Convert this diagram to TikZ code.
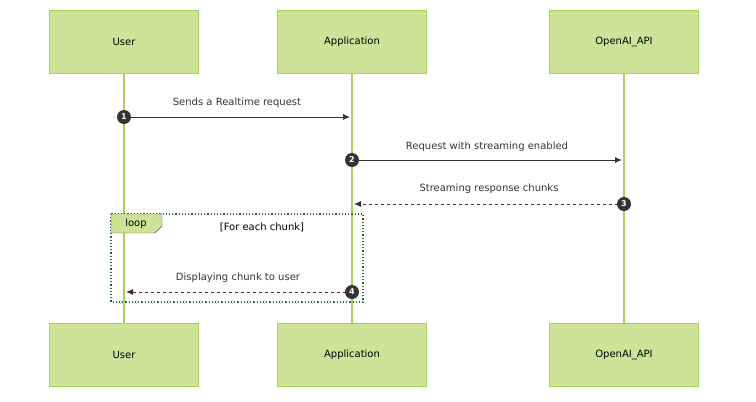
\documentclass[tikz,border=0pt]{standalone}
\usepackage{fontspec}
\setmainfont{DejaVu Sans}
\usetikzlibrary{positioning, arrows.meta}
\definecolor{actorfill}{HTML}{CDE498}
\definecolor{actorline}{HTML}{A8D05A}
\definecolor{loopline}{HTML}{326932}
\definecolor{msg}{HTML}{333333}
\tikzset{
	actor/.style={fill=actorfill,draw=actorline,minimum width=149pt,minimum height=63pt,font=\fontsize{10}{12}\selectfont},
	life/.style={draw=actorline,line width=1.2pt},
	msgline/.style={draw=msg,line width=0.9pt,-{Latex[length=7pt,width=6pt]}},
	msglabel/.style={font=\fontsize{10}{12}\selectfont,text=msg},
	seq/.style={circle,fill=msg,text=white,inner sep=0pt,minimum size=14pt,font=\bfseries\fontsize{8}{9}\selectfont}
}
\begin{document}
\begin{tikzpicture}[x=1pt,y=-1pt]
	\useasboundingbox (0,0) rectangle (756,402);
	% actors
	\node (usertop) at (124,42) [actor] {User};
	\node (apptop) at (352,42) [actor] {Application};
	\node (apitop) at (624,42) [actor] {OpenAI\_API};
	\node (userbot) at (124,355) [actor] {User};
	\node (appbot) at (352,355) [actor] {Application};
	\node (apibot) at (624,355) [actor] {OpenAI\_API};
	\begin{scope}[on background layer/.style={}]
	\end{scope}
	% lifelines
	\path[life] (usertop) -- (userbot);
	\path[life] (apptop) -- (appbot);
	\path[life] (apitop) -- (apibot);
	% loop frame
	\draw[loopline,dotted,line width=1.2pt] (111,214) rectangle (363,302);
	\draw[loopline,fill=actorfill] (111,214) -- (162,214) -- (162,226) -- (155,233) -- (111,233) -- cycle;
	\node (looplabel) at (136,224) [msglabel,text=black] {loop};
	\node (loopcond) at (262,227) [msglabel,text=black] {[For each chunk]};
	% messages
	\coordinate (m1a) at (124,117); \coordinate (m1b) at (350,117);
	\coordinate (m2a) at (352,160); \coordinate (m2b) at (622,160);
	\coordinate (m3a) at (624,204); \coordinate (m3b) at (354,204);
	\coordinate (m4a) at (352,292); \coordinate (m4b) at (126,292);
	\path[msgline] (m1a) -- (m1b);
	\path[msgline] (m2a) -- (m2b);
	\path[msgline,dashed] (m3a) -- (m3b);
	\path[msgline,dashed] (m4a) -- (m4b);
	\node (l1) at (237,103) [msglabel] {Sends a Realtime request};
	\node (l2) at (487,147) [msglabel] {Request with streaming enabled};
	\node (l3) at (489,189) [msglabel] {Streaming response chunks};
	\node (l4) at (238,278) [msglabel] {Displaying chunk to user};
	\node (s1) at (m1a) [seq] {1};
	\node (s2) at (m2a) [seq] {2};
	\node (s3) at (m3a) [seq] {3};
	\node (s4) at (m4a) [seq] {4};
\end{tikzpicture}
\end{document}
